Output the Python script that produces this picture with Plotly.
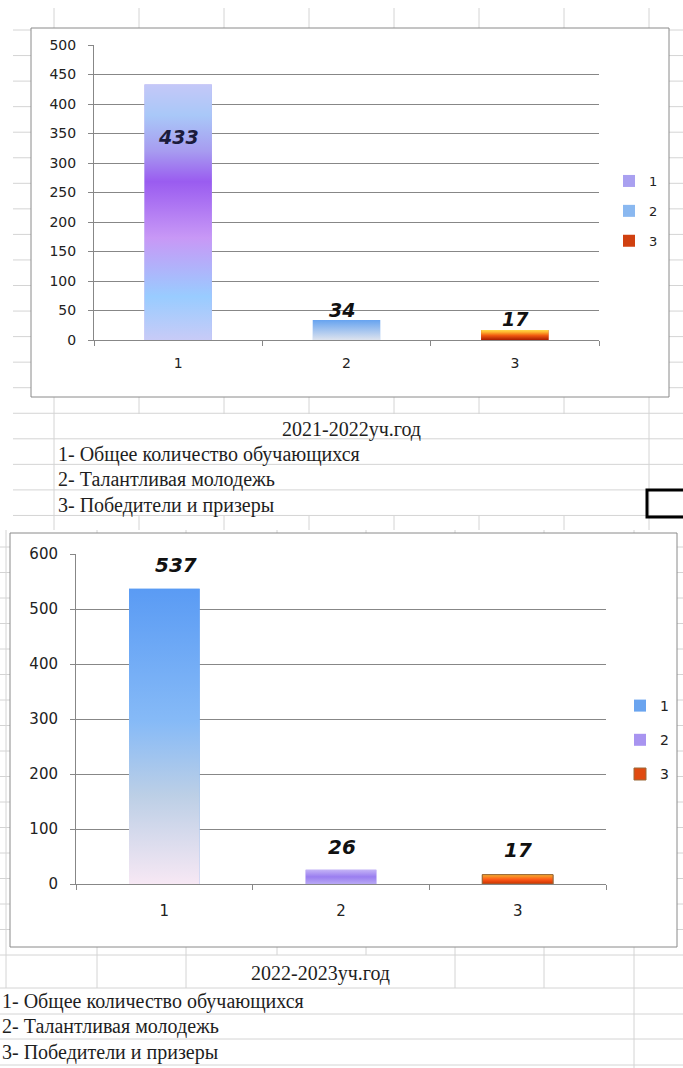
import plotly.graph_objects as go

W, H = 683, 1068

# ---------------- data ----------------
categories = ["1", "2", "3"]
values_2021 = [433, 34, 17]
values_2022 = [537, 26, 17]
title_2021 = "2021-2022уч.год"
title_2022 = "2022-2023уч.год"
legend_text = ["1- Общее количество обучающихся",
               "2- Талантливая молодежь",
               "3- Победители и призеры"]
yticks_2021 = [0, 50, 100, 150, 200, 250, 300, 350, 400, 450, 500]
yticks_2022 = [0, 100, 200, 300, 400, 500, 600]

# ---------------- styles ----------------
grad_2021 = [
    [[0, "#c8cbf7"], [0.17, "#99ccff"], [0.40, "#c898f6"], [0.62, "#9a5cf0"],
     [0.74, "#a79cf0"], [0.88, "#a9c8f8"], [1, "#c4c8f8"]],
    [[0, "#dde3ee"], [1, "#66a3f0"]],
    [[0, "#a81c00"], [0.45, "#f05a10"], [0.8, "#ffb830"], [1, "#ffd84a"]],
]
grad_2022 = [
    [[0, "#f7e8f4"], [0.3, "#bccfe6"], [0.55, "#86baf7"], [1, "#5a9bf4"]],
    [[0, "#b8a8f4"], [0.5, "#9a7ef0"], [1, "#c4b4f6"]],
    [[0, "#c83000"], [0.5, "#ff5a18"], [1, "#f5b030"]],
]
legcol_2021 = ["#a9a0f0", "#8ab8f0", "#d04010"]
legcol_2022 = ["#6aa4ef", "#a894f0", "#e04a10"]
outline_2022 = [None, None, "#9a6a3a"]
label_col_2021 = ["#1c1c3c", "#111111", "#111111"]
# (xshift, yshift) in pixels relative to bar top
label_shift_2021 = [(0, -52), (-5, 10), (1, 11)]
label_shift_2022 = [(12, 24), (1, 23), (0, 25)]

BW = 0.4
GRID = "#d4d4d4"
AX = "#878787"
TICKFONT = "DejaVu Sans"
SERIF = "Liberation Serif"


def px(x):
    return x / W


def py(y):
    return 1 - y / H


fig = go.Figure()


def add_chart(vals, grads, legcols, outlines, xa, ya, leg):
    for i, (c, v) in enumerate(zip(categories, vals)):
        xc = i + 1
        fig.add_trace(go.Bar(
            x=[xc], y=[v], width=BW, name=c, legend=leg, legendgroup=leg + c,
            marker=dict(color=legcols[i],
                        line=dict(width=1 if outlines[i] else 0,
                                  color=outlines[i] or legcols[i])),
            xaxis=xa, yaxis=ya, hoverinfo="skip"))
        fig.add_trace(go.Scatter(
            x=[xc - BW / 2, xc + BW / 2, xc + BW / 2, xc - BW / 2, xc - BW / 2],
            y=[0, 0, v, v, 0],
            fill="toself", mode="lines",
            line=dict(width=1 if outlines[i] else 0,
                      color=outlines[i] or "rgba(0,0,0,0)"),
            fillgradient=dict(type="vertical", colorscale=grads[i]),
            showlegend=False, xaxis=xa, yaxis=ya, hoverinfo="skip"))


add_chart(values_2021, grad_2021, legcol_2021, [None, None, None], "x", "y", "legend")
add_chart(values_2022, grad_2022, legcol_2022, outline_2022, "x2", "y2", "legend2")

# ---------------- spreadsheet grid (decoration) ----------------
shapes = []


def vline(x, y0, y1, color=GRID, w=1):
    shapes.append(dict(type="line", xref="paper", yref="paper",
                       x0=px(x), x1=px(x), y0=py(y0), y1=py(y1),
                       line=dict(color=color, width=w), layer="below"))


def hline(y, x0, x1, color=GRID, w=1):
    shapes.append(dict(type="line", xref="paper", yref="paper",
                       x0=px(x0), x1=px(x1), y0=py(y), y1=py(y),
                       line=dict(color=color, width=w), layer="below"))


top_cols = [54, 139, 224, 309, 394, 479, 564, 649]
for x in top_cols:
    if x in (54, 649):
        vline(x, 8, 530)
    else:
        vline(x, 8, 414)
        vline(x, 516, 530)
k = 0
while 30 + 25.55 * k < 520:
    hline(30 + 25.55 * k, 13, 683)
    k += 1

bot_cols = [6, 97, 186, 277, 366, 455, 544, 634]
for x in bot_cols:
    vline(x, 530, 955)
    if x in (6, 97, 186, 455, 544, 634):
        vline(x, 955, 988)
vline(634, 988, 1068)
for y in [955, 988, 1014, 1039, 1065]:
    hline(y, 0, 683)
k = 1
while 955 - 25.5 * k > 535:
    hline(955 - 25.5 * k, 0, 683)
    k += 1

# chart boxes
for (x0, y0, x1, y1) in [(31, 28, 669, 397), (10, 533, 677, 947)]:
    shapes.append(dict(type="rect", xref="paper", yref="paper",
                       x0=px(x0), x1=px(x1), y0=py(y1), y1=py(y0),
                       fillcolor="white", line=dict(color="#8a8a8a", width=1),
                       layer="below"))

# selected cell frame
shapes.append(dict(type="rect", xref="paper", yref="paper",
                   x0=px(647), x1=px(700), y0=py(517), y1=py(490),
                   line=dict(color="black", width=3), layer="above"))

# ---------------- text ----------------
ann = []
for i, (c, v) in enumerate(zip(categories, values_2021)):
    ann.append(dict(x=i + 1, y=v, xref="x", yref="y", text=str(v), showarrow=False,
                    xshift=label_shift_2021[i][0], yshift=label_shift_2021[i][1],
                    yanchor="middle",
                    font=dict(family=TICKFONT, size=19, color=label_col_2021[i],
                              weight="bold", style="italic")))
for i, (c, v) in enumerate(zip(categories, values_2022)):
    ann.append(dict(x=i + 1, y=v, xref="x2", yref="y2", text=str(v), showarrow=False,
                    xshift=label_shift_2022[i][0], yshift=label_shift_2022[i][1],
                    yanchor="middle",
                    font=dict(family=TICKFONT, size=20, color="#111111",
                              weight="bold", style="italic")))


def ptext(t, x, y, anchor="left"):
    ann.append(dict(x=px(x), y=py(y), xref="paper", yref="paper", text=t,
                    showarrow=False, xanchor=anchor, yanchor="middle",
                    font=dict(family=SERIF, size=20, color="#1e1e1e")))


ptext(title_2021, 351, 429, "center")
for j, t in enumerate(legend_text):
    ptext(t, 56, 454 + 25.5 * j)
ptext(title_2022, 320, 973, "center")
for j, t in enumerate(legend_text):
    ptext(t, 0, 1001 + 25.5 * j)


def xaxis_cfg(domain, size, standoff, anchor):
    return dict(domain=domain, range=[0.5, 3.5], tickvals=[1, 2, 3],
                ticktext=categories, ticks="", showgrid=False, zeroline=False,
                showline=True, linecolor=AX, linewidth=1, anchor=anchor,
                ticklabelstandoff=standoff,
                tickfont=dict(family=TICKFONT, size=size, color="#222"),
                minor=dict(tickvals=[0.5, 1.5, 2.5, 3.5], ticks="outside",
                           ticklen=5, tickcolor=AX, showgrid=False),
                fixedrange=True)


def yaxis_cfg(domain, rng, tv, size, anchor):
    return dict(domain=domain, range=rng, tickvals=tv, ticks="outside",
                ticklen=5, tickcolor=AX, showgrid=True, gridcolor=AX,
                gridwidth=1, zeroline=False, showline=True, linecolor=AX,
                ticklabelstandoff=9, anchor=anchor,
                tickfont=dict(family=TICKFONT, size=size, color="#222"),
                fixedrange=True)


fig.update_layout(
    width=W, height=H,
    margin=dict(l=0, r=0, t=0, b=0, autoexpand=False),
    paper_bgcolor="white", plot_bgcolor="rgba(0,0,0,0)",
    barmode="overlay", showlegend=True,
    xaxis=xaxis_cfg([px(94), px(599)], 14, 10, "y"),
    yaxis=yaxis_cfg([py(340), py(45)], [0, 500], yticks_2021, 14, "x"),
    xaxis2=xaxis_cfg([px(76), px(606)], 15, 13, "y2"),
    yaxis2=yaxis_cfg([py(884), py(554)], [0, 600], yticks_2022, 15, "x2"),
    legend=dict(x=px(609), y=py(211), xanchor="left", yanchor="middle",
                bgcolor="rgba(0,0,0,0)", tracegroupgap=10, itemwidth=30,
                font=dict(family=TICKFONT, size=13, color="#222")),
    legend2=dict(x=px(620), y=py(740), xanchor="left", yanchor="middle",
                 bgcolor="rgba(0,0,0,0)", tracegroupgap=13, itemwidth=30,
                 font=dict(family=TICKFONT, size=14, color="#222")),
    shapes=shapes, annotations=ann,
)

fig.write_html(
    "out.html",
    config={"displayModeBar": False},
    post_script="document.body.style.margin='0';document.body.style.overflow='hidden';",
)
